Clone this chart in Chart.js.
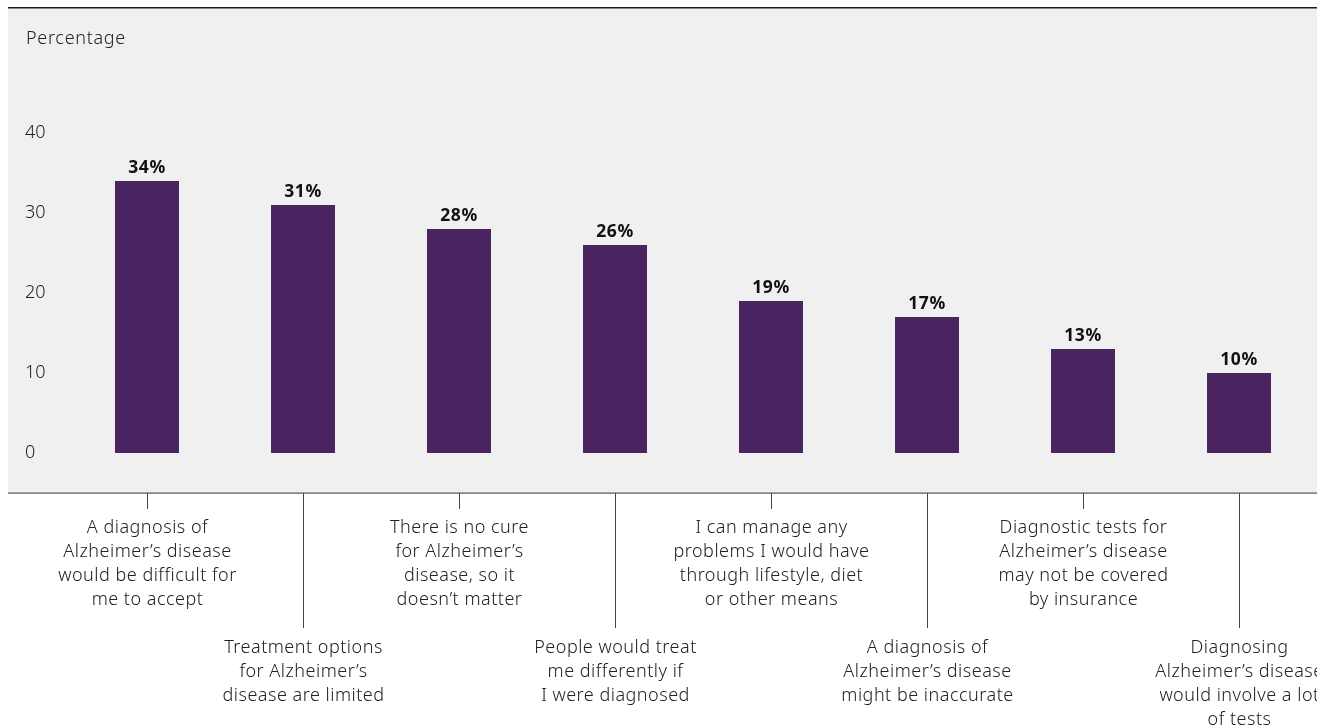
<!DOCTYPE html>
<html>
<head>
<meta charset="utf-8">
<script src="https://cdn.jsdelivr.net/npm/chart.js@4"></script>
<style>
  body { margin: 0; background: #fff; overflow: hidden; }
  #wrap { position: relative; width: 1317px; height: 727px; }
</style>
</head>
<body>
<div id="wrap"><canvas id="barChart"></canvas></div>
<script>
// Chart data
const categories = [
    ["A diagnosis of", "Alzheimer\u2019s disease", "would be difficult for", "me to accept"],
    ["Treatment options", "for Alzheimer\u2019s", "disease are limited"],
    ["There is no cure", "for Alzheimer\u2019s", "disease, so it", "doesn\u2019t matter"],
    ["People would treat", "me differently if", "I were diagnosed"],
    ["I can manage any", "problems I would have", "through lifestyle, diet", "or other means"],
    ["A diagnosis of", "Alzheimer\u2019s disease", "might be inaccurate"],
    ["Diagnostic tests for", "Alzheimer\u2019s disease", "may not be covered", "by insurance"],
    ["Diagnosing", "Alzheimer\u2019s disease", "would involve a lot", "of tests"]
];
const percentages = [34, 31, 28, 26, 19, 17, 13, 10];
const yTicks = [0, 10, 20, 30, 40];

const FONT = "'Noto Sans', Lato, sans-serif";

// Grey panel, frame lines, axis title, x labels and value labels
const decorPlugin = {
    id: "decor",
    beforeDraw(chart) {
        const ctx = chart.ctx;
        ctx.save();
        ctx.fillStyle = "#f0f0f0";
        ctx.fillRect(8, 8, chart.width - 8, 485);
        ctx.fillStyle = "#1a1a1a";
        ctx.fillRect(8, 7, chart.width - 8, 1.5);
        ctx.fillStyle = "#555";
        ctx.fillRect(8, 492.5, chart.width - 8, 1.2);
        ctx.fillStyle = "#222";
        ctx.font = "300 18px " + FONT;
        ctx.letterSpacing = "0.7px";
        ctx.textAlign = "left";
        ctx.textBaseline = "middle";
        ctx.fillText("Percentage", 26, 39);
        ctx.restore();
    },
    afterDatasetsDraw(chart) {
        const ctx = chart.ctx;
        const xScale = chart.scales.x;
        const yScale = chart.scales.y;
        ctx.save();
        // value labels
        ctx.fillStyle = "#111";
        ctx.font = "bold 17.5px " + FONT;
        ctx.letterSpacing = "0.6px";
        ctx.textAlign = "center";
        ctx.textBaseline = "alphabetic";
        percentages.forEach((v, i) => {
            ctx.fillText(v + "%", xScale.getPixelForValue(i), yScale.getPixelForValue(v) - 8);
        });
        // category ticks and labels
        ctx.font = "300 18px " + FONT;
        ctx.letterSpacing = "0.5px";
        ctx.textBaseline = "middle";
        categories.forEach((lines, i) => {
            const x = Math.round(xScale.getPixelForValue(i)) + 0.5;
            const long = i % 2 === 1;
            ctx.strokeStyle = "#444";
            ctx.lineWidth = 1;
            ctx.beginPath();
            ctx.moveTo(x, 493);
            ctx.lineTo(x, long ? 628 : 509);
            ctx.stroke();
            ctx.fillStyle = "#222";
            const startY = long ? 648 : 528;
            lines.forEach((t, j) => ctx.fillText(t, x, startY + j * 24));
        });
        ctx.restore();
    }
};

const ctx = document.getElementById("barChart").getContext("2d");
new Chart(ctx, {
    type: "bar",
    data: {
        labels: categories.map(c => c.join(" ")),
        datasets: [
            {
                data: percentages,
                backgroundColor: "#4a2361",
                barPercentage: 0.41,
                categoryPercentage: 1
            }
        ]
    },
    options: {
        responsive: true,
        maintainAspectRatio: false,
        animation: false,
        layout: { padding: { top: 133, bottom: 274, left: 25, right: 0 } },
        plugins: { legend: { display: false }, tooltip: { enabled: false } },
        scales: {
            x: { display: false },
            y: {
                min: 0,
                max: 40,
                afterBuildTicks: scale => { scale.ticks = yTicks.map(v => ({ value: v })); },
                afterFit: scale => { scale.width = 44; },
                grid: { display: false },
                border: { display: false },
                ticks: {
                    crossAlign: "far",
                    color: "#222",
                    font: { family: FONT, size: 18, weight: "300" }
                }
            }
        }
    },
    plugins: [decorPlugin]
});
</script>
</body>
</html>
